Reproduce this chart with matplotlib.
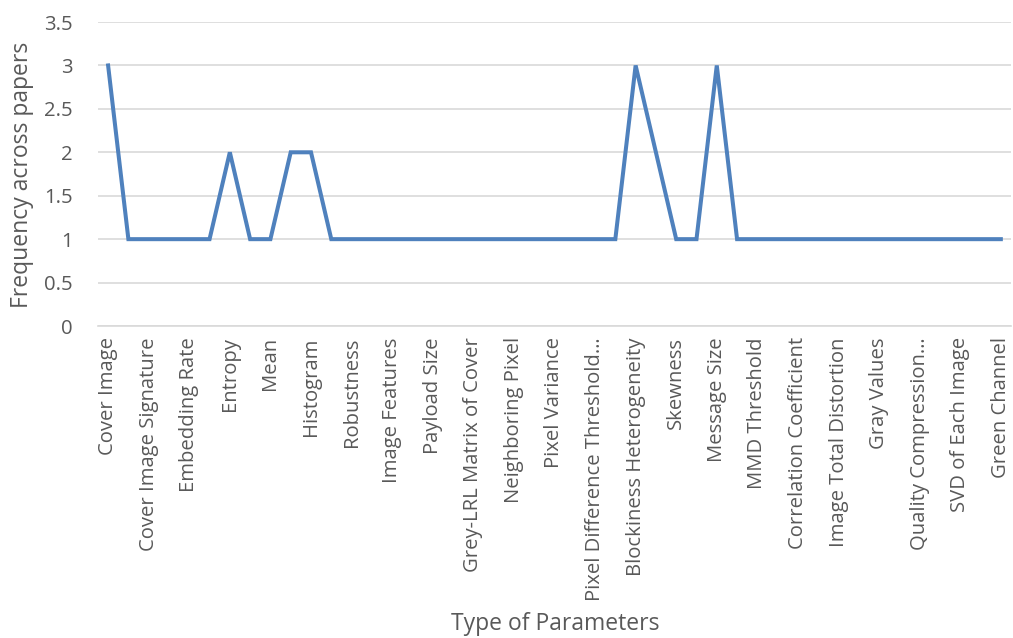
import matplotlib
matplotlib.use("Agg")
import matplotlib.pyplot as plt

plt.rcParams['font.family'] = ['Open Sans', 'DejaVu Sans']

# frequency of each parameter (45 parameters, every second one labelled)
freq = [3, 1, 1, 1, 1, 1, 2, 1, 1, 2, 2, 1, 1, 1, 1, 1, 1, 1, 1, 1, 1, 1, 1,
        1, 1, 1, 3, 2, 1, 1, 3, 1, 1, 1, 1, 1, 1, 1, 1, 1, 1, 1, 1, 1, 1]

shown_labels = ["Cover Image", "Cover Image Signature", "Embedding Rate", "Entropy",
                "Mean", "Histogram", "Robustness", "Image Features", "Payload Size",
                "Grey-LRL Matrix of Cover", "Neighboring Pixel", "Pixel Variance",
                "Pixel Difference Threshold\u2026", "Blockiness Heterogeneity", "Skewness",
                "Message Size", "MMD Threshold", "Correlation Coefficient",
                "Image Total Distortion", "Gray Values", "Quality Compression\u2026",
                "SVD of Each Image", "Green Channel"]

yticks = [0, 0.5, 1, 1.5, 2, 2.5, 3, 3.5]
ytick_labels = ["0", "0.5", "1", "1.5", "2", "2.5", "3", "3.5"]

fig = plt.figure(figsize=(10.13, 6.38), dpi=100)
ax = fig.add_axes([0.0967, 0.489, 0.9013, 0.4765])

x = list(range(len(freq)))
ax.plot(x, freq, color='#4f81bd', linewidth=2.9, solid_joinstyle='miter', zorder=3)

ax.set_xlim(-0.5, len(freq) - 0.5)
ax.set_ylim(0, 3.5)
ax.set_yticks(yticks)
ax.set_yticklabels(ytick_labels, fontsize=14.6, color='#595959')
ax.set_xticks(x[::2])
ax.set_xticklabels(shown_labels, rotation=90, fontsize=14.6, color='#595959')
ax.tick_params(axis='both', length=0)
ax.tick_params(axis='y', pad=18)
ax.tick_params(axis='x', pad=8)

ax.grid(axis='y', color='#d9d9d9', linewidth=1.2)
ax.set_axisbelow(True)
for side in ['top', 'right', 'left']:
    ax.spines[side].set_visible(False)
ax.spines['bottom'].set_color('#d9d9d9')
ax.spines['bottom'].set_linewidth(1.2)

fig.text(0.548, 0.022, "Type of Parameters", ha='center', va='center',
         fontsize=16.5, color='#595959')
fig.text(0.022, 0.726, "Frequency across papers", ha='center', va='center',
         rotation=90, fontsize=16.5, color='#595959')

fig.savefig("out.png", dpi=100)
